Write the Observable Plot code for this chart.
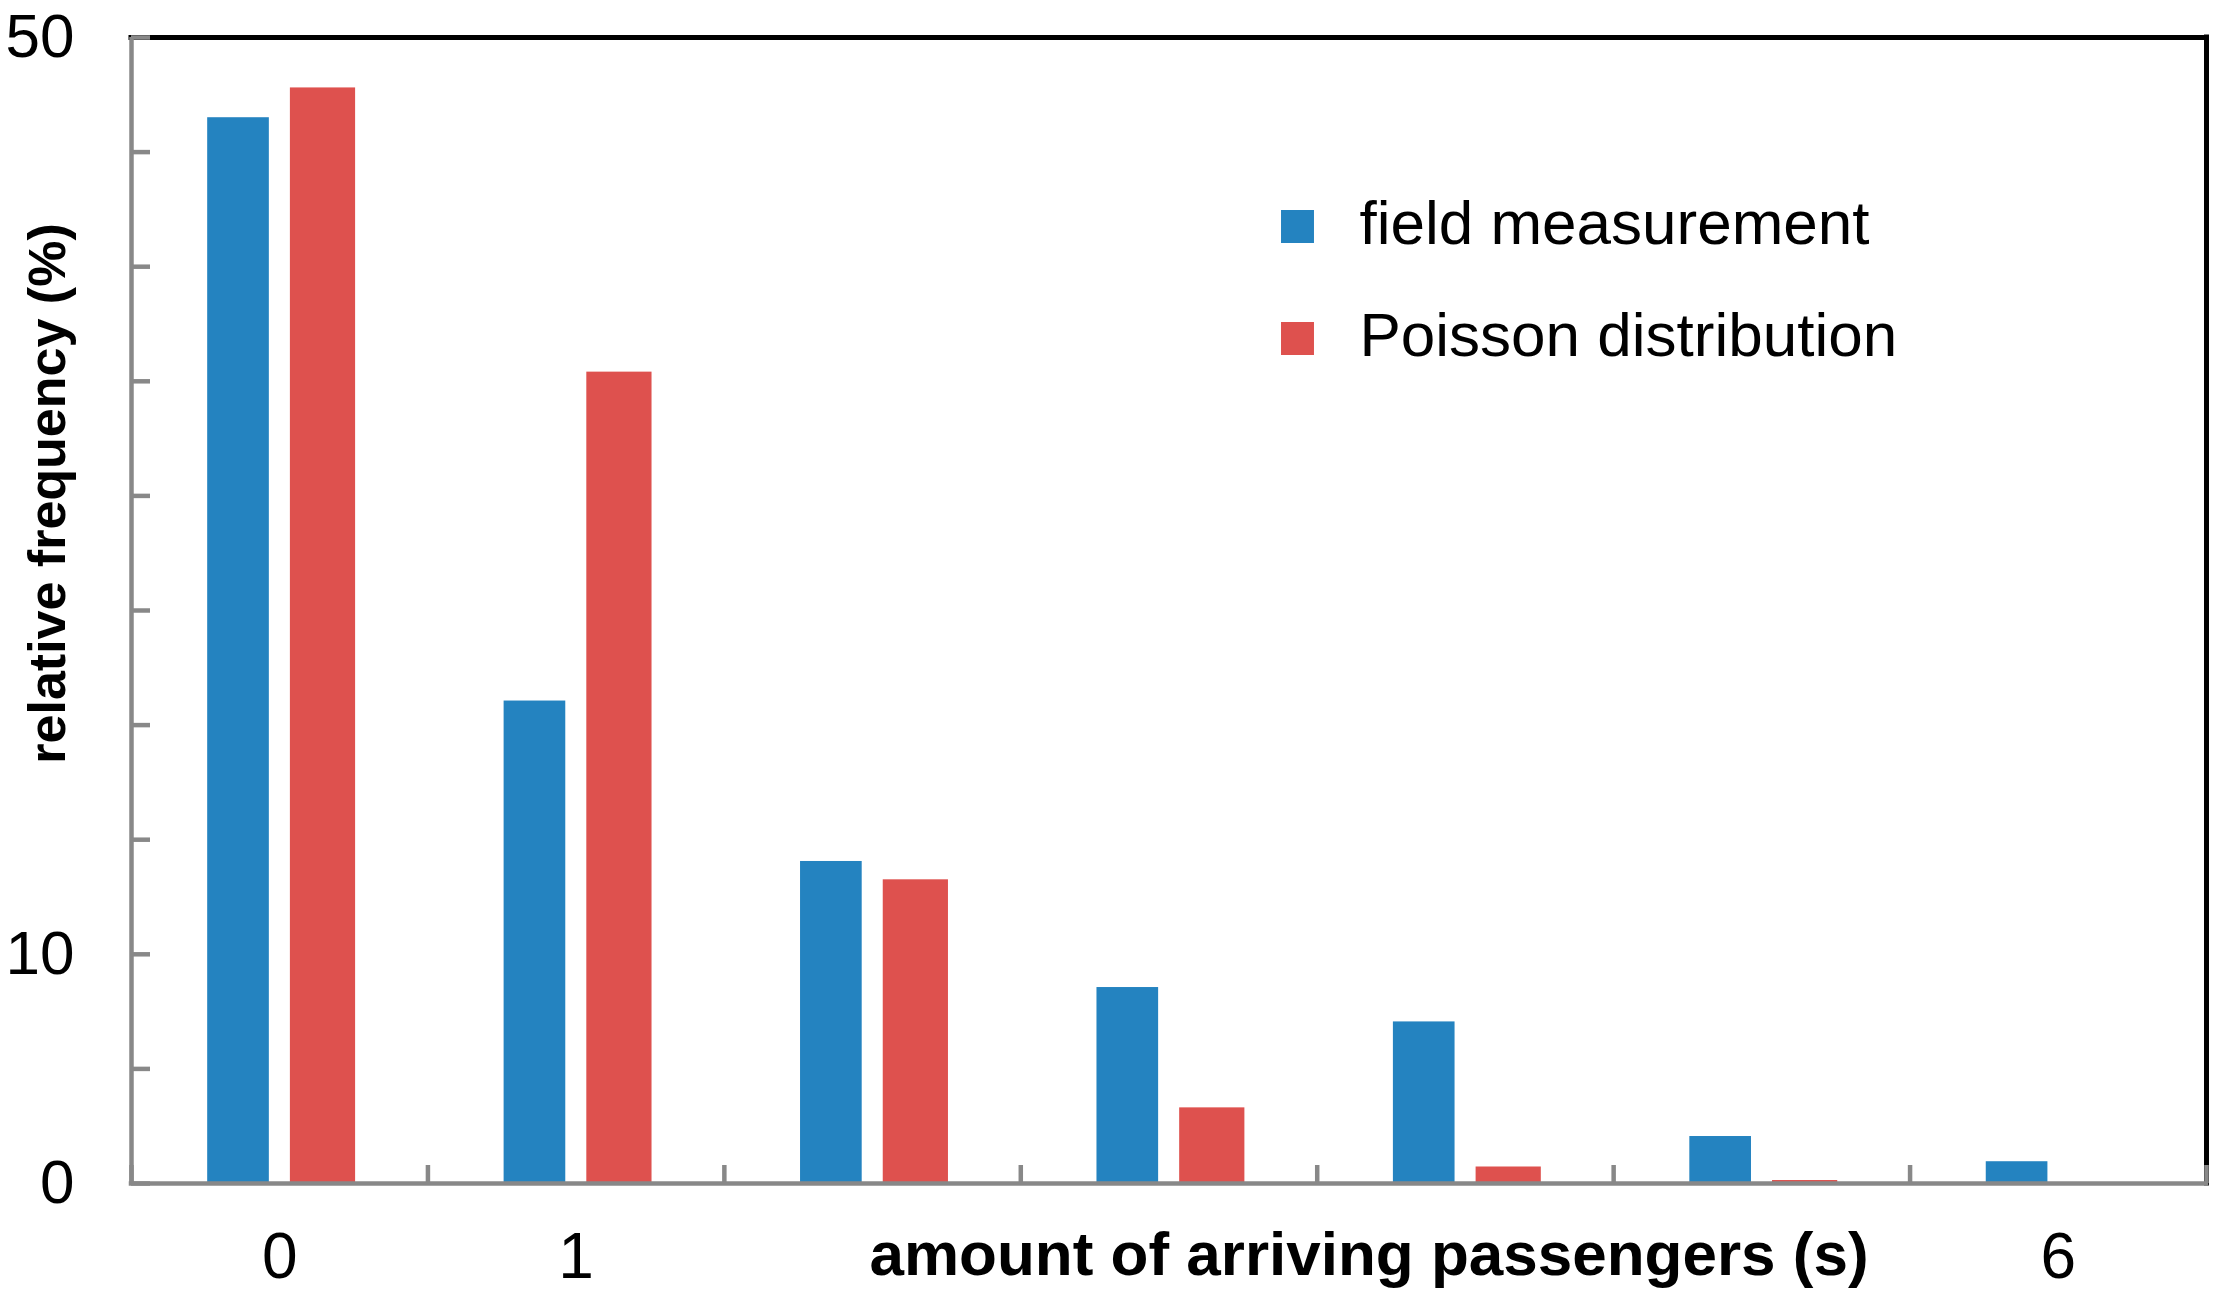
<!DOCTYPE html>
<html>
<head>
<meta charset="utf-8">
<script src="https://cdn.jsdelivr.net/npm/d3@7"></script>
<script src="https://cdn.jsdelivr.net/npm/@observablehq/plot@0.6"></script>
<style>
  html, body { margin: 0; padding: 0; background: #fff; }
  #chart svg { display: block; }
</style>
</head>
<body>
<div id="chart"></div>
<script>
// ---- data ----
const categories = [0, 1, 2, 3, 4, 5, 6];
const fieldMeasurement = [46.5, 21.05, 14.05, 8.55, 7.05, 2.05, 0.95];
const poissonDistribution = [47.8, 35.4, 13.25, 3.3, 0.72, 0.13, 0];
const seriesNames = ["field measurement", "Poisson distribution"];
const seriesColors = ["#2483c0", "#de514e"];
const yTicks = [0, 5, 10, 15, 20, 25, 30, 35, 40, 45, 50];
const yTickLabels = [0, 10, 50];
const xTickLabels = [0, 1, 6];
const xTitle = "amount of arriving passengers (s)";
const yTitle = "relative frequency (%)";

// ---- table built from the arrays ----
const seriesValues = [fieldMeasurement, poissonDistribution];
const rows = categories.flatMap((c, i) =>
  seriesNames.map((s, j) => ({cat: c, series: s, slot: j, value: seriesValues[j][i]}))
);
const xBounds = d3.range(categories[0] - 0.5, categories[categories.length - 1] + 1, 1);

// bar placement inside one category (fraction of the category width)
const slotStart = [0.257, 0.536];
const slotEnd = [0.465, 0.756];

const font = "'Liberation Sans', Arial, Helvetica, sans-serif";

const chart = Plot.plot({
  width: 2231,
  height: 1304,
  marginLeft: 131,
  marginRight: 25,
  marginTop: 37,
  marginBottom: 121,
  x: {domain: [xBounds[0], xBounds[xBounds.length - 1]], axis: null},
  y: {domain: [0, 50], axis: null},
  color: {domain: seriesNames, range: seriesColors},
  style: {fontFamily: font, background: "#fff", color: "#000", overflow: "visible"},
  marks: [
    Plot.rect(rows, {
      x1: d => d.cat - 0.5 + slotStart[d.slot],
      x2: d => d.cat - 0.5 + slotEnd[d.slot],
      y1: 0,
      y2: "value",
      fill: "series"
    }),
    // frame
    Plot.ruleY([50], {stroke: "#000", strokeWidth: 5, strokeLinecap: "square"}),
    Plot.ruleX([xBounds[xBounds.length - 1]], {stroke: "#000", strokeWidth: 5, strokeLinecap: "square"}),
    Plot.ruleX([xBounds[0]], {stroke: "#888", strokeWidth: 4.5}),
    Plot.ruleY([0], {stroke: "#888", strokeWidth: 4.5, strokeLinecap: "square"}),
    // inward ticks
    Plot.axisY({ticks: yTicks, tickSize: -19, tickFormat: () => "", label: null, stroke: "#888", strokeWidth: 4.5}),
    Plot.axisX({ticks: xBounds, tickSize: -18, tickFormat: () => "", label: null, stroke: "#888", strokeWidth: 4.5}),
    // tick labels
    Plot.axisY({ticks: yTickLabels, tickSize: 0, tickPadding: 57, tickFormat: d => String(d), label: null, fontSize: 62, fill: "#000"}),
    Plot.axisX({ticks: xTickLabels, tickSize: 0, tickPadding: 49, tickFormat: d => String(d), label: null, fontSize: 64, fill: "#000"}),
    // axis titles
    Plot.text([xTitle], {frameAnchor: "bottom", dx: 200, dy: 72, textAnchor: "middle", lineAnchor: "middle", fontSize: 62, fontWeight: "bold", fill: "#000"}),
    Plot.text([yTitle], {frameAnchor: "left", rotate: -90, dx: -83, dy: -117, textAnchor: "middle", lineAnchor: "middle", fontSize: 52, fontWeight: "bold", fill: "#000"}),
    // legend
    ...seriesNames.flatMap((name, i) => [
      Plot.dot([name], {frameAnchor: "top-left", dx: 1297 - 131, dy: 226 - 37 + i * 112, symbol: "square", r: 18.6, fill: seriesColors[i], stroke: null}),
      Plot.text([name], {frameAnchor: "top-left", dx: 1359 - 131, dy: 224 - 37 + i * 112, textAnchor: "start", lineAnchor: "middle", fontSize: 62, fill: "#000"})
    ])
  ]
});

document.getElementById("chart").appendChild(chart);
</script>
</body>
</html>
